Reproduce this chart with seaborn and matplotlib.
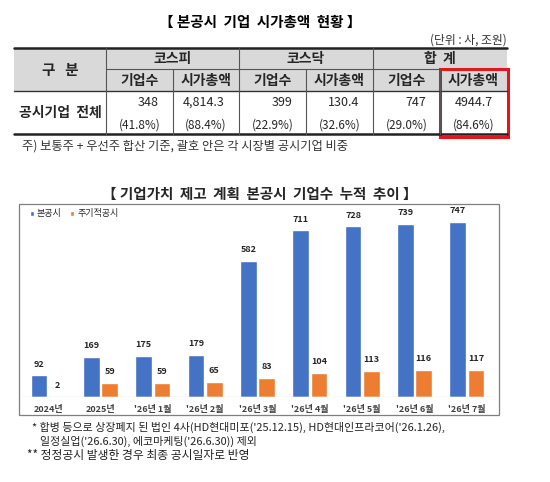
import pandas as pd
import matplotlib.pyplot as plt
from matplotlib.patches import Rectangle
import seaborn as sns

# ---- data ----
periods = ["2024년", "2025년", "'26년 1월", "'26년 2월", "'26년 3월",
           "'26년 4월", "'26년 5월", "'26년 6월", "'26년 7월"]
main_disclosure = [92, 169, 175, 179, 582, 711, 728, 739, 747]
periodic_disclosure = [2, 59, 59, 65, 83, 104, 113, 116, 117]
series_names = ["본공시", "주기적공시"]

table_groups = ["코스피", "코스닥", "합  계"]
table_subcols = ["기업수", "시가총액"] * 3
table_values = ["348", "4,814.3", "399", "130.4", "747", "4944.7"]
table_shares = ["(41.8%)", "(88.4%)", "(22.9%)", "(32.6%)", "(29.0%)", "(84.6%)"]

sns.set_theme(style="white")
plt.rcParams['font.family'] = ['Noto Sans CJK KR', 'DejaVu Sans']

W, H = 550, 482
fig = plt.figure(figsize=(W / 100, H / 100), dpi=100)

# overlay axes in pixel coordinates for the table and texts
ov = fig.add_axes([0, 0, 1, 1])
ov.set_xlim(0, W)
ov.set_ylim(H, 0)
ov.axis('off')

ov.text(260, 22, "【 본공시  기업  시가총액  현황 】", ha='center', va='center',
        fontsize=10.5, fontweight='bold', color='black')
ov.text(507, 40, "(단위 : 사, 조원)", ha='right', va='center', fontsize=8.5, color='#333333')

# table geometry
col_x = [14, 106, 173, 239, 306, 373, 440, 507]
y_top, y_mid, y_head, y_bot = 48, 69, 91, 134
gray = '#d9d9d9'
ov.add_patch(Rectangle((col_x[0], y_top), col_x[-1] - col_x[0], y_head - y_top,
                       facecolor=gray, edgecolor='none'))
ov.plot([col_x[0], col_x[-1]], [y_top, y_top], color='#222222', lw=1.8)
ov.plot([col_x[0], col_x[-1]], [y_bot, y_bot], color='#222222', lw=1.8)
ov.plot([col_x[0], col_x[-1]], [y_head, y_head], color='#333333', lw=1.0)
ov.plot([col_x[1], col_x[-1]], [y_mid, y_mid], color='#555555', lw=0.8)
for i, x in enumerate(col_x[1:-1], start=1):
    y0 = y_top if i % 2 == 1 else y_mid
    ov.plot([x, x], [y0, y_bot], color='#555555', lw=0.8)

ov.text(60, 70, "구   분", ha='center', va='center', fontsize=10.5, fontweight='bold')
for g, name in enumerate(table_groups):
    cx = (col_x[1 + 2 * g] + col_x[3 + 2 * g]) / 2
    ov.text(cx, 59, name, ha='center', va='center', fontsize=10, fontweight='bold')
for c, name in enumerate(table_subcols):
    cx = (col_x[1 + c] + col_x[2 + c]) / 2
    ov.text(cx, 81, name, ha='center', va='center', fontsize=10, fontweight='bold')
    ov.text(col_x[2 + c] - 14, 102, table_values[c], ha='right', va='center', fontsize=9)
    ov.text(cx, 125, table_shares[c], ha='center', va='center', fontsize=8.5)
ov.text(60, 113, "공시기업  전체", ha='center', va='center', fontsize=10, fontweight='bold')
ov.add_patch(Rectangle((440, 69), 68, 68, facecolor='none', edgecolor='#e8141b', lw=2.2))

ov.text(22, 146, "주) 보통주 + 우선주 합산 기준, 괄호 안은 각 시장별 공시기업 비중",
        ha='left', va='center', fontsize=8.8, color='#333333')

# chart title and frame
ov.text(260, 194, "【 기업가치  제고  계획  본공시  기업수  누적  추이 】", ha='center', va='center',
        fontsize=10.5, fontweight='bold')
ov.add_patch(Rectangle((19, 204), 480, 211, facecolor='none', edgecolor='#7f7f7f', lw=0.9))

# footnotes
ov.text(32, 427, "* 합병 등으로 상장폐지 된 법인 4사(HD현대미포('25.12.15), HD현대인프라코어('26.1.26),",
        ha='left', va='center', fontsize=7.9, color='#222222')
ov.text(40, 441, "일정실업('26.6.30), 에코마케팅('26.6.30)) 제외",
        ha='left', va='center', fontsize=7.9, color='#222222')
ov.text(27, 455, "** 정정공시 발생한 경우 최종 공시일자로 반영",
        ha='left', va='center', fontsize=8.5, color='#222222')

# bar chart
df = pd.DataFrame({
    'period': periods * 2,
    'count': main_disclosure + periodic_disclosure,
    'type': [series_names[0]] * len(periods) + [series_names[1]] * len(periods),
})
ax = fig.add_axes([22 / W, 1 - 397 / H, (493 - 22) / W, (397 - 204) / H])
sns.barplot(data=df, x='period', y='count', hue='type', ax=ax,
            palette=['#4472C4', '#ED7D31'], width=0.7, gap=0.08, saturation=1)
ax.set_ylim(0, 824)
ax.set_xlim(-0.5, len(periods) - 0.5)
ax.set_facecolor('none')
for s in ax.spines.values():
    s.set_visible(False)
ax.axhline(0, color='#d9d9d9', lw=1)
ax.set_yticks([])
ax.set_xlabel('')
ax.set_ylabel('')
ax.tick_params(axis='x', length=0, pad=6, labelsize=6.5, labelcolor='#404040')
for lab in ax.get_xticklabels():
    lab.set_fontweight('bold')
for cont in ax.containers:
    ax.bar_label(cont, padding=5, fontsize=6.5, fontweight='bold', color='#262626')
ax.legend(loc='upper left', bbox_to_anchor=(0.005, 1.0), ncol=2, frameon=False,
          fontsize=6.5, handlelength=0.5, handleheight=0.5, handletextpad=0.3,
          columnspacing=0.9, borderaxespad=0.2)

fig.savefig('out.png', dpi=100)
